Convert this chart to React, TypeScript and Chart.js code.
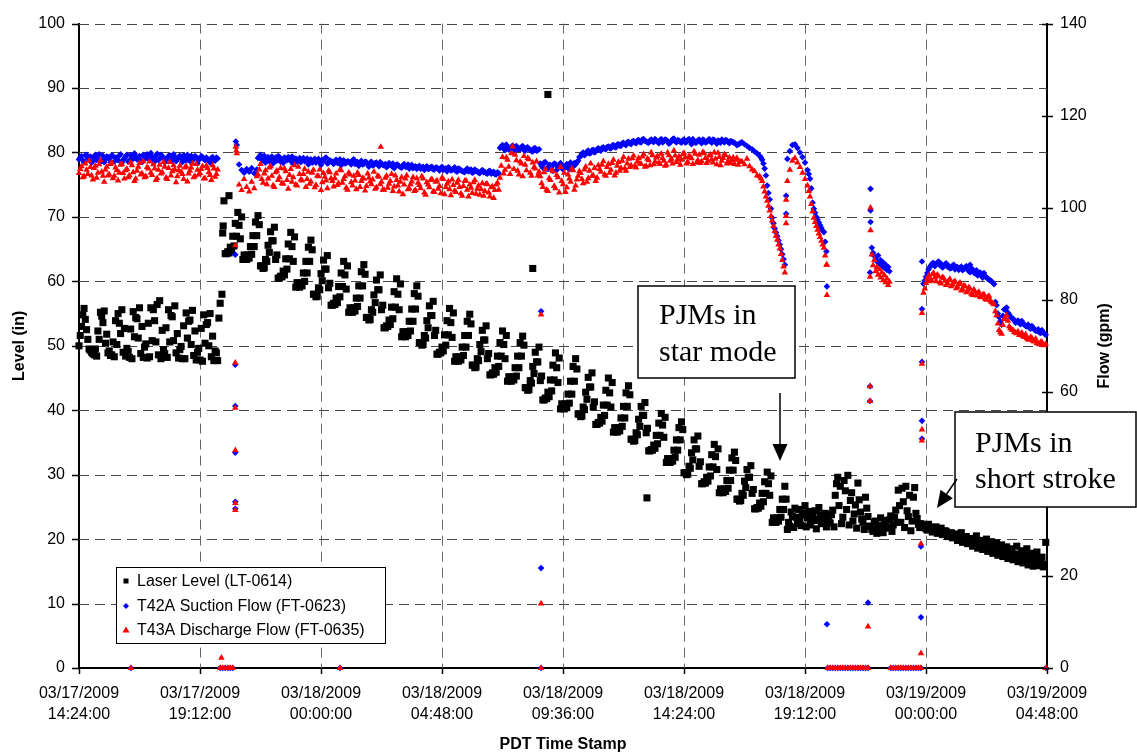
import React, { useEffect, useRef } from "react";
import { Chart, registerables } from "chart.js";
Chart.register(...registerables);

// ---------- axes ----------
const xTickHours = [0, 4.8, 9.6, 14.4, 19.2, 24, 28.8, 33.6, 38.4]; // hours after 03/17/2009 14:24
const xTickLabels = [
  ["03/17/2009", "14:24:00"],
  ["03/17/2009", "19:12:00"],
  ["03/18/2009", "00:00:00"],
  ["03/18/2009", "04:48:00"],
  ["03/18/2009", "09:36:00"],
  ["03/18/2009", "14:24:00"],
  ["03/18/2009", "19:12:00"],
  ["03/19/2009", "00:00:00"],
  ["03/19/2009", "04:48:00"],
];
const levelTicks = [0, 10, 20, 30, 40, 50, 60, 70, 80, 90, 100];
const flowTicks = [0, 20, 40, 60, 80, 100, 120, 140];
const seriesLabels = ["Laser Level (LT-0614)", "T42A Suction Flow (FT-0623)", "T43A Discharge Flow (FT-0635)"];
const levelTitle = "Level (in)";
const flowTitle = "Flow (gpm)";
const timeTitle = "PDT Time Stamp";
const note1 = ["PJMs in", "star mode"];
const note2 = ["PJMs in", "short stroke"];

// ---------- Laser level (in): runs sampled every 0.1 h ----------
const levelRunA = [
  50.0, 53.0, 55.8, 52.5, 49.5, 49.0, 48.6,
  48.4, 51.0, 54.6, 55.4, 51.8, 49.2, 48.6,
  48.3, 50.2, 53.5, 55.6, 52.7, 49.6, 48.2,
  48.0, 51.4, 54.2, 55.9, 53.0, 49.8, 48.1,
  48.3, 50.8, 53.9, 56.4, 57.0, 52.4, 48.8,
  48.2, 50.6, 54.5, 56.2, 51.9, 49.4, 48.0,
  48.0, 51.2, 54.0, 55.5, 52.3, 49.0, 47.8,
  47.6, 50.4, 53.6, 55.0, 51.5, 49.2, 47.7,
];
const levelRunA2 = [
  51.6, 54.8, 54.1, 51.0, 49.3, 48.8, 49.5,
  52.3, 55.2, 53.6, 50.4, 48.9, 48.5, 50.6,
  53.9, 55.0, 51.9, 49.0, 48.4, 49.1, 52.6,
  55.3, 54.4, 51.2, 48.8, 48.2, 50.3, 53.5,
  55.9, 55.6, 50.6, 48.6, 48.0, 49.4, 52.8,
  55.6, 54.7, 50.8, 48.9, 48.1, 49.9, 53.1,
  55.1, 53.8, 50.2, 48.5, 47.8, 49.6, 52.7,
  54.8, 53.3, 50.0, 48.3, 47.7, 48.9,
];
const levelRunB = [
  64.3, 64.6, 65.3, 67.0, 69.0, 70.7, 66.6,
  63.4, 63.5, 64.1, 65.4, 67.1, 69.2, 70.2,
  62.4, 62.0, 63.4, 65.6, 67.7, 66.3, 63.4,
  60.5, 60.8, 61.6, 63.5, 65.8, 67.6, 63.1,
  59.1, 59.2, 59.8, 61.3, 63.1, 65.3, 66.4,
  58.0, 57.6, 59.0, 61.2, 63.3, 61.9, 59.0,
  56.3, 56.6, 57.4, 59.2, 61.3, 63.1, 58.8,
  55.2, 55.3, 55.9, 57.4, 59.3, 61.5, 62.6,
  54.4, 54.0, 55.6, 57.9, 60.2, 58.7, 55.6,
  52.8, 53.1, 54.0, 56.0, 58.4, 60.4, 55.6,
  51.4, 51.6, 52.2, 53.8, 55.7, 58.1, 59.3,
  50.5, 50.1, 51.6, 53.9, 56.2, 54.7, 51.6,
  48.7, 49.0, 49.8, 51.7, 53.9, 55.8, 51.3,
  47.6, 47.7, 48.3, 49.8, 51.6, 53.8, 54.9,
  47.0, 46.6, 48.0, 50.2, 52.4, 50.9, 48.0,
  45.5, 45.8, 46.6, 48.4, 50.5, 52.3, 48.0,
  44.5, 44.6, 45.2, 46.6, 48.4, 50.5, 51.5,
  43.5, 43.1, 44.6, 46.8, 49.0, 47.5, 44.6,
  41.6, 41.9, 42.8, 44.7, 47.0, 48.9, 44.3,
  40.2, 40.4, 41.0, 42.5, 44.5, 46.8, 48.0,
  39.4, 39.0, 40.5, 42.8, 45.1, 43.6, 40.5,
  37.8, 38.1, 38.9, 40.8, 43.1, 45.0, 40.5,
  36.6, 36.7, 37.3, 38.8, 40.6, 42.7, 43.8,
  35.5, 35.2, 36.5, 38.6, 40.6, 39.2, 36.5,
  33.7, 33.9, 34.6, 36.1, 38.0, 39.5, 35.8,
  31.9, 32.0, 32.5, 33.8, 35.4, 37.3, 38.2,
  30.3, 30.0, 31.3, 33.4, 35.4, 34.0, 31.3,
  28.6, 28.9, 29.6, 31.2, 33.1, 34.7, 30.8,
  27.2, 27.3, 27.8, 29.1, 30.7, 32.6, 33.5,
  26.2, 25.9, 27.1, 29.0, 30.8, 29.6, 27.1,
  24.7, 24.9, 25.6, 27.1, 28.9, 30.4, 26.8,
  22.6, 22.7, 23.3, 24.6, 26.2, 28.2,
];
const levelRunB2 = [
  64.3, 64.4, 64.7, 65.5, 67.0, 68.7, 70.0,
  64.1, 63.4, 63.6, 64.2, 65.4, 67.1, 68.8,
  62.4, 62.1, 63.1, 64.5, 66.3, 68.4, 64.1,
  60.5, 60.7, 61.0, 61.9, 63.5, 65.4, 66.9,
  59.8, 59.1, 59.3, 60.0, 61.3, 63.1, 64.9,
  58.0, 57.7, 58.7, 60.1, 61.9, 64.0, 59.7,
  56.3, 56.4, 56.7, 57.6, 59.2, 61.0, 62.4,
  55.9, 55.2, 55.4, 56.1, 57.4, 59.3, 61.1,
  54.4, 54.1, 55.2, 56.7, 58.7, 61.0, 56.3,
  52.8, 53.0, 53.3, 54.2, 56.0, 58.0, 59.6,
  52.2, 51.4, 51.6, 52.3, 53.8, 55.7, 57.7,
  50.5, 50.2, 51.2, 52.8, 54.7, 56.9, 52.4,
  48.7, 48.9, 49.2, 50.1, 51.7, 53.6, 55.1,
  48.3, 47.6, 47.8, 48.5, 49.8, 51.6, 53.4,
  47.0, 46.7, 47.7, 49.1, 50.9, 53.1, 48.8,
  45.5, 45.6, 45.9, 46.8, 48.4, 50.2, 51.6,
  45.2, 44.5, 44.7, 45.3, 46.6, 48.4, 50.1,
  43.5, 43.2, 44.2, 45.7, 47.5, 49.8, 45.3,
  41.6, 41.8, 42.1, 43.0, 44.7, 46.6, 48.1,
  41.0, 40.2, 40.4, 41.1, 42.5, 44.5, 46.4,
  39.4, 39.1, 40.1, 41.7, 43.6, 45.8, 41.3,
  37.8, 38.0, 38.3, 39.2, 40.8, 42.7, 44.3,
  37.3, 36.6, 36.8, 37.5, 38.8, 40.6, 42.4,
  35.5, 35.3, 36.2, 37.5, 39.2, 41.2, 37.2,
  33.7, 33.8, 34.1, 34.8, 36.1, 37.7, 38.9,
  32.5, 31.9, 32.1, 32.7, 33.8, 35.4, 37.0,
  30.3, 30.1, 31.0, 32.3, 34.0, 36.0, 32.0,
  28.6, 28.7, 29.0, 29.8, 31.2, 32.8, 34.0,
  27.8, 27.2, 27.4, 27.9, 29.1, 30.7, 32.2,
  26.2, 26.0, 26.8, 28.0, 29.6, 31.4, 27.7,
  24.7, 24.8, 25.1, 25.8, 27.1, 28.6, 29.8,
  23.3, 22.6, 22.8, 23.4, 24.6, 26.2,
];
const levelRunC = [
  21.5, 22.0, 23.5, 24.8, 22.4, 23.0, 24.1, 25.2, 23.3, 22.2, 23.6, 24.4, 22.9, 23.8, 22.6, 24.0, 23.1,
  22.5, 24.5, 26.8, 29.6, 28.2, 23.4, 27.5, 29.9, 26.0, 22.8, 25.3, 28.7, 24.2, 22.6, 26.5, 23.5,
  22.0, 21.2, 22.8, 21.6, 23.3, 21.0, 22.4, 21.8, 23.6, 22.2,
  24.5, 27.6, 22.6, 25.8, 28.2, 23.5, 21.3, 26.5, 24.0, 22.3,
  22.4, 22.0, 21.6, 22.3, 21.8, 21.5, 21.9, 21.3, 21.7, 21.0,
  21.2, 20.6, 21.0, 20.3, 20.8, 20.1, 21.0, 19.8, 20.4, 19.6,
  20.1, 19.2, 20.5, 19.0, 19.8, 18.8, 20.0, 18.5, 19.6, 18.3,
  19.4, 18.0, 19.1, 17.6, 18.8, 17.4, 18.5, 17.2, 18.9, 16.9,
  18.2, 16.7, 18.5, 16.4, 17.8, 16.2, 18.0, 15.9, 17.2, 16.1,
];
const levelRunC2 = [
  22.6, 24.2, 21.8, 23.4, 24.6, 22.1, 23.7, 21.9, 24.3, 22.8, 23.1, 21.6, 24.9, 22.4, 23.5, 21.9, 22.7,
  23.8, 21.9, 28.6, 25.2, 22.4, 29.1, 24.6, 22.2, 27.2, 23.9, 21.7, 26.1, 23.1, 21.5, 24.8, 22.0,
  21.5, 22.6, 20.9, 22.1, 21.4, 22.9, 21.7, 23.0, 21.2, 23.4,
  22.6, 25.2, 27.9, 21.8, 24.4, 26.8, 22.8, 28.0, 23.2, 21.8,
  21.8, 22.2, 21.4, 21.9, 21.1, 21.6, 20.9, 21.4, 20.7, 21.3,
  20.4, 20.9, 20.2, 20.7, 19.8, 20.5, 19.5, 20.2, 19.3, 19.9,
  18.9, 19.7, 18.6, 19.5, 18.4, 19.3, 18.1, 19.0, 17.8, 18.7,
  17.5, 18.4, 17.3, 18.2, 17.0, 18.0, 16.8, 17.7, 16.5, 17.4,
  16.3, 17.6, 16.0, 17.3, 15.8, 17.0, 15.9, 16.6, 15.7,
];
const levelRunStarts = [0.0, 0.05, 5.8, 5.85, 28.1, 28.15];
const levelRuns = [levelRunA, levelRunA2, levelRunB, levelRunB2, levelRunC, levelRunC2];
const levelSingles = [
  [5.55, 54.3], [5.6, 56.6], [5.67, 58.0], [5.7, 67.5], [5.72, 68.6], [5.75, 72.5], [5.95, 73.3],
  [18.0, 62.0], [18.6, 89.0], [22.53, 26.4], [38.35, 19.5],
];

// ---------- Flows (gpm): runs share start hours and steps ----------
const flowRunStarts = [
  0, 6.35, 7.1, 16.7, 18.3, 19.9, 26.3, 27.05, 28.1, 28.95, 29.7, 31.45, 32.2, 33.5, 36.4,
  0.05, 7.15, 16.75, 18.35, 19.95, 33.55, 36.45,
];
const flowRunSteps = [
  0.1, 0.1, 0.1, 0.1, 0.1, 0.1, 0.1, 0.05, 0.1, 0.05, 0.1, 0.05, 0.1, 0.1, 0.1,
  0.1, 0.1, 0.1, 0.1, 0.1, 0.1, 0.1,
];

const zeroRunA = [0, 0, 0, 0, 0, 0, 0, 0, 0, 0, 0, 0, 0, 0, 0, 0, 0];
const zeroRunB = [0, 0, 0, 0, 0, 0, 0, 0, 0, 0, 0, 0, 0];

const suction1 = [
  110.5, 111.2, 110.0, 111.5, 110.8, 109.8, 111.0, 110.4, 111.6, 110.2,
  109.9, 111.1, 110.6, 111.4, 110.0, 110.9, 111.3, 109.7, 110.7, 111.5,
  110.3, 111.0, 111.8, 110.5, 111.2, 109.9, 110.8, 111.6, 110.4, 111.1,
  110.0, 111.7, 110.6, 111.2, 109.8, 110.9, 111.4, 110.2, 111.0, 110.5,
  111.3, 109.9, 110.7, 111.5, 110.1, 110.9, 111.2, 109.6, 110.8, 111.0,
  110.3, 110.6, 109.8, 111.0, 110.2, 110.7,
];
const suction1b = [
  110.9, 110.3, 111.4, 110.6, 111.1, 110.1, 111.5, 110.7, 110.0, 111.3,
  110.5, 111.0, 109.9, 111.2, 110.8, 110.3, 111.6, 110.4, 111.1, 110.0,
  111.4, 110.6, 111.2, 110.9, 110.2, 111.5, 110.7, 111.0, 111.9, 110.6,
  111.3, 110.4, 111.5, 110.8, 110.3, 111.2, 110.6, 111.6, 110.1, 111.0,
  110.7, 111.4, 110.2, 110.9, 111.3, 110.5, 111.0, 110.3, 111.2, 110.6,
  110.9, 110.1, 110.8, 110.4, 110.9,
];
const suction2 = [109.4, 108.2, 107.6, 108.4, 107.8, 108.6, 107.5, 108.3];
const suction3 = [
  110.8, 111.5, 110.2, 109.8, 111.0, 110.5, 109.6, 110.9, 111.2, 110.0,
  109.7, 110.6, 111.0, 110.1, 109.5, 110.7, 110.3, 109.9, 110.8, 110.2,
  109.4, 110.5, 110.0, 109.8, 110.6, 109.3, 110.2, 110.9, 109.7, 110.1,
  109.5, 110.4, 109.9, 109.2, 110.3, 109.7, 110.0, 109.4, 110.5, 109.6,
  109.1, 110.2, 109.5, 109.9, 108.9, 110.0, 109.3, 109.8, 109.0, 109.6,
  109.2, 108.8, 109.7, 109.1, 108.6, 109.4, 109.0, 108.7, 109.5, 108.9,
  108.5, 109.3, 108.8, 108.4, 109.1, 108.6, 108.2, 109.0, 108.5, 108.9,
  108.3, 108.7, 108.1, 108.9, 108.4, 107.9, 108.6, 108.2, 108.8, 107.8,
  108.4, 108.0, 107.7, 108.5, 108.1, 107.6, 108.3, 107.9, 107.5, 108.2,
  107.8, 107.4, 108.0, 107.6, 107.3, 107.7,
];
const suction3b = [
  111.0, 110.4, 111.3, 110.7, 110.1, 111.1, 110.6, 110.2, 111.0, 110.5,
  110.9, 110.3, 110.7, 111.1, 110.4, 110.0, 110.8, 110.5, 110.1, 110.7,
  110.2, 109.8, 110.6, 110.3, 109.9, 110.4, 110.7, 109.6, 110.3, 109.9,
  110.2, 109.7, 110.5, 110.0, 109.6, 110.1, 109.8, 110.3, 109.5, 109.9,
  109.7, 109.4, 110.0, 109.5, 109.8, 109.2, 109.7, 109.4, 109.9, 109.3,
  109.5, 109.1, 109.3, 109.6, 109.0, 109.3, 108.8, 109.2, 108.9, 109.4,
  108.9, 108.6, 109.0, 108.8, 108.5, 108.9, 108.7, 108.4, 108.8, 108.3,
  108.7, 108.4, 108.6, 108.2, 108.5, 108.8, 108.1, 108.4, 108.0, 108.5,
  108.1, 107.8, 108.2, 107.9, 108.3, 107.7, 108.0, 107.6, 107.9, 107.7,
  107.5, 107.9, 107.4, 107.8, 107.2, 107.5,
];
const suction4 = [113.0, 113.6, 112.5, 113.2, 112.8, 113.5, 112.3, 113.0, 112.7, 113.4, 112.4, 113.1, 112.6, 112.2, 112.9, 112.5];
const suction4b = [113.3, 112.8, 113.7, 112.6, 113.1, 112.9, 113.4, 112.7, 113.2, 112.5, 113.0, 112.8, 112.3, 112.9, 112.4, 112.7];
const suction5 = [109.6, 108.7, 109.9, 108.4, 109.2, 108.0, 109.5, 108.8, 109.7, 108.3, 109.0, 108.6, 109.8, 108.9, 109.4, 110.2];
const suction5b = [109.1, 109.8, 108.5, 109.3, 108.9, 109.6, 108.2, 109.0, 109.4, 108.7, 109.5, 108.4, 109.2, 109.7, 109.9, 111.0];
const suction6 = [
  111.2, 112.0, 111.6, 112.4, 111.9, 112.6, 112.2, 112.9, 112.4, 113.1,
  112.7, 113.3, 112.9, 113.6, 113.1, 113.8, 113.4, 114.1, 113.6, 114.3,
  113.8, 114.5, 114.0, 114.7, 114.2, 114.9, 114.4, 114.1, 114.8, 114.3,
  114.6, 114.0, 114.9, 114.4, 114.7, 113.9, 114.5, 115.0, 114.2, 114.6,
  114.1, 114.8, 114.3, 114.9, 113.8, 114.5, 114.2, 114.8, 114.0, 114.6,
  114.3, 114.9, 114.1, 114.7, 113.9, 114.5, 114.8, 114.2, 114.6, 114.0,
  114.4, 114.1, 113.6, 113.9,
];
const suction6b = [
  111.7, 111.4, 112.2, 111.8, 112.5, 112.0, 112.7, 112.6, 113.0, 112.8,
  113.2, 113.0, 113.5, 113.2, 113.7, 113.5, 114.0, 113.8, 114.2, 114.0,
  114.4, 114.2, 114.6, 114.3, 114.8, 114.5, 114.2, 114.6, 114.4, 114.9,
  114.3, 114.7, 114.2, 114.8, 114.5, 114.1, 114.9, 114.4, 114.7, 114.3,
  114.6, 114.2, 114.7, 114.4, 114.9, 114.1, 114.6, 114.3, 114.8, 114.2,
  114.6, 114.4, 114.8, 114.3, 114.6, 114.1, 114.5, 114.7, 114.3, 114.5,
  114.2, 113.9, 113.8, 114.1,
];
const suction7 = [114.2, 113.8, 113.4, 113.0, 112.7, 112.2, 111.8, 111.3];
const suction8 = [110.9, 110.4, 109.6, 108.5, 107.0, 104.8, 103.2, 101.8, 99.8, 97.8, 96.6, 95.5, 94.6, 93.8, 92.9, 92.0, 91.0, 89.9, 88.8, 87.6];
const suction9 = [110.6, 112.3, 113.6, 113.8, 113.0, 112.0, 111.0, 109.8, 108.2];
const suction10 = [107.3, 106.3, 104.2, 101.1, 99.8, 98.9, 98.0, 97.4, 96.8, 96.2, 95.6, 95.0, 94.7, 92.6, 90.5];
const suction11 = [91.3, 90.2, 89.5, 88.8, 88.3, 89.6, 87.9, 88.6, 87.4, 88.1, 86.9, 87.6, 86.5, 87.1, 86.2];
const suction12 = [
  83.5, 85.0, 86.6, 87.5, 88.0, 87.6, 88.3, 87.8, 87.2, 87.9,
  87.4, 86.9, 87.6, 87.0, 86.5, 87.2, 86.7, 87.3, 86.2, 86.8,
  85.9, 86.4, 85.6, 85.2, 85.8, 84.9, 84.4, 84.0, 83.4,
];
const suction12b = [
  84.2, 85.8, 87.1, 87.9, 87.3, 88.1, 87.5, 87.0, 87.7, 87.2,
  86.8, 87.4, 86.6, 87.1, 86.9, 86.4, 87.0, 86.5, 86.0, 86.6,
  85.7, 85.3, 85.9, 84.8, 85.1, 84.5, 84.2, 83.7, 79.5,
];
const suction13 = [78.8, 76.2, 74.6, 77.9, 78.3, 76.8, 76.0, 75.6, 75.2, 74.9, 75.4, 74.6, 74.2, 73.9, 74.3, 73.5, 73.2, 72.9, 73.4, 72.6];
const suction13b = [77.0, 75.3, 76.5, 78.0, 77.2, 76.3, 75.9, 75.0, 75.5, 74.7, 74.9, 74.3, 74.6, 73.7, 73.9, 73.3, 73.6, 72.8, 72.9, 72.4];
const suctionRuns = [
  suction1, suction2, suction3, suction4, suction5, suction6, suction7, suction8, suction9, suction10,
  zeroRunA, suction11, zeroRunB, suction12, suction13,
  suction1b, suction3b, suction4b, suction5b, suction6b, suction12b, suction13b,
];
const suctionSingles = [
  [2.06, 0], [5.6, 0], [5.7, 0], [5.8, 0], [5.9, 0], [6.0, 0], [6.1, 0],
  [6.2, 89.8], [6.2, 65.9], [6.2, 56.9], [6.2, 46.8], [6.2, 36.1], [6.2, 34.6], [6.22, 114.4], [6.26, 113.6],
  [10.35, 0], [18.33, 77.5], [18.33, 21.7], [18.33, 0], [28.05, 102.6], [28.05, 98.7],
  [29.67, 82.9], [29.67, 9.5], [31.3, 14.2], [31.38, 61.2], [31.38, 58.0], [31.38, 85.9],
  [31.4, 104.1], [31.4, 99.4], [31.4, 96.9], [33.4, 11.0], [33.4, 26.4],
  [33.44, 88.3], [33.44, 78.0], [33.44, 66.5], [33.44, 53.7], [33.44, 49.8], [35.35, 87.6], [38.36, 0],
];

const discharge1 = [
  107.5, 109.0, 106.8, 108.2, 110.2, 107.0, 108.6, 106.5, 109.4, 107.8,
  105.6, 108.9, 107.2, 109.8, 106.9, 108.1, 107.6, 109.5, 106.3, 108.4,
  107.0, 109.2, 105.8, 108.0, 109.7, 107.4, 106.6, 108.8, 110.0, 107.1,
  108.5, 106.4, 109.3, 107.7, 108.9, 106.2, 109.9, 107.9, 108.3, 106.8,
  109.1, 107.3, 108.7, 105.7, 108.0, 109.6, 106.9, 108.2, 107.5, 109.0,
  106.4, 108.6, 107.1, 109.2, 106.7, 108.3,
];
const discharge1b = [
  108.4, 106.6, 109.6, 107.3, 108.8, 106.1, 109.1, 107.6, 110.3, 106.9,
  108.2, 107.0, 109.5, 106.4, 108.7, 105.9, 109.3, 107.5, 108.1, 106.6,
  109.8, 107.7, 106.3, 108.9, 107.2, 110.1, 106.8, 108.5, 107.6, 109.4,
  106.0, 108.2, 107.4, 109.9, 106.5, 108.6, 107.0, 109.2, 105.5, 108.1,
  107.8, 106.2, 109.0, 107.4, 108.7, 106.6, 109.5, 107.2, 108.4, 106.3,
  109.1, 107.7, 106.0, 108.5, 107.3,
];
const discharge2 = [105.0, 103.8, 106.2, 104.5, 103.5, 105.6, 104.2, 106.8];
const discharge3 = [
  107.2, 109.5, 105.4, 108.1, 106.3, 109.0, 104.8, 107.7, 106.0, 108.6,
  105.2, 107.9, 104.1, 108.4, 106.6, 105.0, 108.9, 106.1, 107.3, 104.5,
  107.8, 105.7, 108.2, 104.9, 106.8, 103.8, 107.5, 105.9, 108.0, 106.4,
  104.6, 107.4, 105.3, 108.1, 106.2, 104.3, 107.6, 105.5, 106.9, 104.0,
  107.1, 105.8, 106.3, 104.7, 106.5, 105.1, 107.8, 104.4, 106.7, 105.6,
  103.9, 106.9, 105.2, 107.3, 104.6, 106.0, 103.5, 106.6, 105.0, 107.0,
  104.2, 105.7, 103.6, 106.4, 104.9, 106.8, 103.3, 105.5, 104.4, 106.2,
  103.4, 105.9, 104.7, 106.5, 102.9, 105.2, 104.0, 106.1, 103.7, 105.4,
  104.5, 102.6, 105.8, 103.9, 105.0, 103.2, 106.0, 104.1, 102.8, 105.3,
  103.6, 105.1, 102.4, 104.6, 103.8, 105.4,
];
const discharge3b = [
  108.3, 106.2, 107.4, 105.1, 108.7, 106.9, 104.5, 108.0, 106.6, 105.3,
  108.5, 106.0, 107.1, 105.6, 109.2, 104.8, 107.3, 105.9, 108.4, 106.2,
  105.2, 107.6, 104.4, 106.9, 108.3, 105.5, 106.7, 104.2, 107.7, 105.8,
  106.4, 104.9, 108.2, 105.4, 106.8, 103.9, 107.2, 104.8, 105.9, 107.6,
  104.5, 106.4, 103.7, 107.4, 105.7, 106.1, 104.1, 106.9, 105.1, 103.9,
  106.5, 104.3, 105.8, 103.6, 107.0, 104.8, 105.6, 102.9, 106.3, 104.0,
  105.1, 106.6, 103.8, 105.4, 104.2, 106.3, 102.8, 105.0, 106.0, 103.5,
  105.6, 104.1, 103.1, 106.2, 104.4, 105.7, 102.7, 104.9, 103.4, 106.0,
  103.1, 104.7, 105.9, 102.4, 104.3, 105.5, 103.0, 104.8, 104.0, 102.6,
  105.2, 103.3, 104.4, 102.1, 105.0, 103.9,
];
const discharge4 = [106.5, 111.0, 108.2, 110.4, 107.3, 113.3, 111.5, 108.0, 110.0, 106.8, 109.3, 110.8, 107.6, 109.8, 108.5, 107.0];
const discharge4b = [109.1, 107.4, 110.9, 108.9, 111.8, 108.4, 110.3, 107.2, 109.6, 111.2, 108.1, 110.5, 106.9, 108.8, 110.1, 107.8];
const discharge5 = [106.8, 104.5, 108.4, 103.6, 106.0, 107.9, 104.2, 106.6, 108.8, 105.1, 103.4, 107.2, 105.6, 108.1, 104.8, 106.9];
const discharge5b = [105.3, 107.7, 103.9, 106.4, 108.2, 104.7, 107.1, 103.3, 105.8, 107.6, 104.4, 106.3, 108.5, 103.9, 106.1, 107.9];
const discharge6 = [
  107.5, 105.3, 108.9, 106.4, 109.6, 107.0, 105.8, 109.2, 107.8, 110.1,
  106.9, 109.5, 108.2, 110.4, 107.6, 109.9, 108.6, 111.0, 108.0, 110.6,
  109.2, 111.3, 108.7, 110.8, 109.5, 111.6, 109.0, 110.3, 112.0, 109.4,
  110.9, 109.8, 111.7, 110.2, 109.3, 111.4, 110.6, 112.4, 109.9, 111.1,
  110.4, 111.9, 109.6, 111.2, 110.7, 112.2, 109.8, 111.5, 110.1, 111.8,
  109.7, 111.3, 110.5, 112.0, 109.4, 111.0, 110.2, 111.6, 109.6, 110.9,
  110.3, 109.5, 110.8, 109.9,
];
const discharge6b = [
  106.2, 108.3, 105.6, 108.0, 106.9, 108.6, 106.5, 108.4, 109.3, 107.2,
  108.8, 107.6, 109.7, 107.0, 109.1, 108.0, 110.2, 108.5, 109.6, 108.8,
  110.7, 109.1, 110.0, 109.6, 111.1, 108.9, 110.6, 109.2, 111.4, 110.0,
  111.2, 109.5, 110.8, 109.1, 112.0, 110.2, 109.6, 111.3, 110.5, 109.3,
  111.6, 110.9, 109.9, 111.0, 109.5, 111.7, 110.3, 109.7, 112.1, 110.8,
  110.2, 111.5, 109.8, 110.6, 111.9, 109.2, 110.8, 111.4, 110.1, 109.7,
  110.9, 110.4, 109.3, 110.0,
];
const discharge7 = [110.0, 109.4, 110.6, 109.0, 108.3, 107.9, 107.0, 106.8];
const discharge8 = [106.4, 105.8, 104.6, 103.5, 102.4, 101.5, 100.4, 99.4, 98.2, 97.2, 96.0, 94.9, 93.9, 93.0, 92.0, 91.1, 89.9, 88.6, 87.2, 85.9];
const discharge9 = [105.8, 108.2, 110.2, 110.8, 109.8, 108.8, 107.6, 106.2, 104.8];
const discharge10 = [103.6, 102.4, 100.8, 99.2, 97.8, 96.9, 96.0, 95.2, 94.4, 93.6, 92.8, 92.0, 91.3, 89.6, 87.6];
const discharge11 = [89.8, 87.5, 88.6, 86.2, 87.1, 85.4, 86.6, 84.8, 85.9, 84.2, 85.3, 83.8, 84.6, 83.2, 83.9];
const discharge12 = [
  81.5, 83.6, 85.2, 84.4, 85.8, 84.0, 85.1, 83.5, 84.7, 83.2,
  84.2, 82.9, 83.8, 82.5, 83.4, 82.0, 83.1, 81.6, 82.7, 81.3,
  82.2, 80.9, 81.7, 80.5, 81.2, 80.0, 80.8, 79.5, 79.0,
];
const discharge12b = [
  82.4, 84.6, 84.0, 85.5, 84.8, 85.4, 83.8, 84.9, 84.1, 83.6,
  84.5, 83.3, 84.0, 82.8, 83.7, 82.3, 82.9, 82.0, 82.4, 81.0,
  81.7, 81.4, 80.6, 81.0, 80.2, 80.6, 79.8, 79.2, 77.5,
];
const discharge13 = [76.6, 73.4, 72.6, 75.8, 76.6, 74.2, 73.5, 73.0, 72.7, 72.3, 72.8, 71.9, 71.6, 71.3, 71.7, 70.9, 70.6, 70.3, 70.8, 70.1];
const discharge13b = [74.8, 72.9, 74.5, 76.2, 75.4, 73.8, 73.4, 72.8, 73.1, 72.4, 72.1, 72.5, 71.4, 71.9, 71.1, 71.5, 70.5, 70.8, 70.2, 70.4];
const dischargeRuns = [
  discharge1, discharge2, discharge3, discharge4, discharge5, discharge6, discharge7, discharge8, discharge9, discharge10,
  zeroRunA, discharge11, zeroRunB, discharge12, discharge13,
  discharge1b, discharge3b, discharge4b, discharge5b, discharge6b, discharge12b, discharge13b,
];
const dischargeSingles = [
  [2.06, 0], [5.6, 0], [5.65, 2.2], [5.7, 0], [5.8, 0], [5.9, 0], [6.0, 0], [6.1, 0],
  [6.2, 91.8], [6.2, 66.3], [6.2, 56.5], [6.2, 47.3], [6.2, 35.8], [6.2, 34.3],
  [6.22, 113.2], [6.24, 112.4], [6.26, 111.8], [10.35, 0], [11.97, 113.2],
  [18.33, 76.8], [18.33, 14.0], [18.33, 0], [28.05, 101.7], [28.05, 98.2], [28.05, 96.6],
  [29.67, 87.6], [29.67, 81.0], [31.3, 9.0], [31.38, 61.2], [31.38, 58.0], [31.38, 85.0],
  [31.4, 100.0], [31.4, 95.1], [33.4, 3.2], [33.4, 27.0],
  [33.44, 77.1], [33.44, 66.1], [33.44, 51.8], [33.44, 49.4], [38.36, 0],
];

// ---------- helpers to build the point tables ----------
function run(t0: number, dt: number, vals: number[]) {
  return vals.map((v, i) => ({ x: Math.round((t0 + i * dt) * 1000) / 1000, y: v }));
}
function singles(pairs: number[][]) {
  return pairs.map(([x, y]) => ({ x, y }));
}
function series(runs: number[][], starts: number[], steps: number[] | number, extra: number[][]) {
  const out: { x: number; y: number }[] = [];
  runs.forEach((vals, k) => out.push(...run(starts[k], Array.isArray(steps) ? steps[k] : steps, vals)));
  out.push(...singles(extra));
  return out;
}

const SANS = '"Liberation Sans", Arial, Helvetica, sans-serif';
const SERIF = '"Liberation Serif", "Times New Roman", serif';

const gridPlugin = {
  id: "dashedGrid",
  beforeDatasetsDraw(chart: any) {
    const ctx: CanvasRenderingContext2D = chart.ctx;
    const { left, right, top, bottom } = chart.chartArea;
    const sx = chart.scales.x, sy = chart.scales.y;
    ctx.save();
    ctx.lineWidth = 1;
    ctx.setLineDash([10, 6]);
    ctx.strokeStyle = "#444";
    levelTicks.slice(1).forEach((v) => {
      const y = Math.round(sy.getPixelForValue(v)) + 0.5;
      ctx.beginPath(); ctx.moveTo(left, y); ctx.lineTo(right, y); ctx.stroke();
    });
    ctx.strokeStyle = "#666";
    xTickHours.slice(1, -1).forEach((h) => {
      const x = Math.round(sx.getPixelForValue(h)) + 0.5;
      ctx.beginPath(); ctx.moveTo(x, top); ctx.lineTo(x, bottom); ctx.stroke();
    });
    ctx.restore();
  },
};

const overlayPlugin = {
  id: "overlay",
  afterDraw(chart: any) {
    const ctx: CanvasRenderingContext2D = chart.ctx;
    const { left, right, top, bottom } = chart.chartArea;
    const sx = chart.scales.x, sy = chart.scales.y, sy1 = chart.scales.y1;
    ctx.save();
    ctx.setLineDash([]);
    ctx.strokeStyle = "#000";
    ctx.lineWidth = 1.5;
    const line = (x1: number, y1: number, x2: number, y2: number) => {
      ctx.beginPath(); ctx.moveTo(x1, y1); ctx.lineTo(x2, y2); ctx.stroke();
    };
    levelTicks.forEach((v) => { const y = Math.round(sy.getPixelForValue(v)) + 0.5; line(left - 7, y, left, y); });
    flowTicks.forEach((v) => { const y = Math.round(sy1.getPixelForValue(v)) + 0.5; line(right - 5, y, right + 6, y); });
    xTickHours.forEach((h) => { const x = Math.round(sx.getPixelForValue(h)) + 0.5; line(x, bottom, x, bottom + 6); });

    // axis titles
    ctx.fillStyle = "#000";
    ctx.font = `bold 16px ${SANS}`;
    ctx.textAlign = "center";
    ctx.textBaseline = "middle";
    ctx.save(); ctx.translate(left - 59.5, (top + bottom) / 2); ctx.rotate(-Math.PI / 2); ctx.fillText(levelTitle, 0, 0); ctx.restore();
    ctx.save(); ctx.translate(right + 58, (top + bottom) / 2); ctx.rotate(-Math.PI / 2); ctx.fillText(flowTitle, 0, 0); ctx.restore();
    ctx.fillText(timeTitle, (left + right) / 2, bottom + 77);

    // legend
    const lx = left + 37, ly = bottom - 101, lw = 269, lh = 76;
    ctx.fillStyle = "#fff"; ctx.fillRect(lx, ly, lw, lh);
    ctx.lineWidth = 1; ctx.strokeStyle = "#000"; ctx.strokeRect(lx + 0.5, ly + 0.5, lw, lh);
    const rows = [ly + 14, ly + 39, ly + 63];
    const mx = lx + 10;
    ctx.fillStyle = "#000"; ctx.fillRect(mx - 2.5, rows[0] - 2.5, 5, 5);
    ctx.fillStyle = "#0000ff"; ctx.beginPath(); ctx.moveTo(mx - 3, rows[1]); ctx.lineTo(mx, rows[1] - 3); ctx.lineTo(mx + 3, rows[1]); ctx.lineTo(mx, rows[1] + 3); ctx.closePath(); ctx.fill();
    ctx.fillStyle = "#ff0000"; ctx.beginPath(); ctx.moveTo(mx, rows[2] - 3.5); ctx.lineTo(mx + 3.5, rows[2] + 2.5); ctx.lineTo(mx - 3.5, rows[2] + 2.5); ctx.closePath(); ctx.fill();
    ctx.fillStyle = "#000"; ctx.font = `16px ${SANS}`; ctx.textAlign = "left"; ctx.textBaseline = "middle";
    seriesLabels.forEach((t, i) => ctx.fillText(t, lx + 21, rows[i] + 1));

    // annotation boxes
    ctx.lineWidth = 1.5;
    ctx.fillStyle = "#fff"; ctx.fillRect(638, 286, 157, 92); ctx.strokeRect(638, 286, 157, 92);
    ctx.fillRect(955, 412, 181, 95); ctx.strokeRect(955, 412, 181, 95);
    ctx.fillStyle = "#000"; ctx.font = `30px ${SERIF}`; ctx.textAlign = "left"; ctx.textBaseline = "alphabetic";
    ctx.fillText(note1[0], 659, 324); ctx.fillText(note1[1], 659, 361);
    ctx.fillText(note2[0], 975, 452); ctx.fillText(note2[1], 975, 488);

    // arrows
    const arrow = (x1: number, y1: number, x2: number, y2: number) => {
      const ang = Math.atan2(y2 - y1, x2 - x1);
      const hl = 17, hw = 7.5;
      const bx = x2 - hl * Math.cos(ang), by = y2 - hl * Math.sin(ang);
      ctx.lineWidth = 1.5; line(x1, y1, bx, by);
      ctx.beginPath(); ctx.moveTo(x2, y2);
      ctx.lineTo(bx + hw * Math.sin(ang), by - hw * Math.cos(ang));
      ctx.lineTo(bx - hw * Math.sin(ang), by + hw * Math.cos(ang));
      ctx.closePath(); ctx.fill();
    };
    ctx.fillStyle = "#000";
    arrow(780, 393, 780, 461);
    arrow(957, 479, 937, 508);
    ctx.restore();
  },
};

export default function App() {
  const ref = useRef<HTMLCanvasElement | null>(null);
  useEffect(() => {
    if (!ref.current) return;
    const chart = new Chart(ref.current, {
      type: "scatter",
      data: {
        datasets: [
          { label: seriesLabels[0], data: series(levelRuns, levelRunStarts, 0.1, levelSingles), yAxisID: "y", pointStyle: "rect", pointRadius: 5, backgroundColor: "#000", borderWidth: 0, order: 3, clip: false },
          { label: seriesLabels[1], data: series(suctionRuns, flowRunStarts, flowRunSteps, suctionSingles), yAxisID: "y1", pointStyle: "rectRot", pointRadius: 3.3, backgroundColor: "#0000ff", borderWidth: 0, order: 2, clip: false },
          { label: seriesLabels[2], data: series(dischargeRuns, flowRunStarts, flowRunSteps, dischargeSingles), yAxisID: "y1", pointStyle: "triangle", pointRadius: 3.8, backgroundColor: "#ff0000", borderWidth: 0, order: 1, clip: false },
        ],
      },
      options: {
        responsive: false,
        animation: false,
        events: [],
        layout: { padding: { top: 16, left: 0, right: 0, bottom: 0 } },
        plugins: { legend: { display: false }, tooltip: { enabled: false } },
        scales: {
          x: {
            type: "linear",
            min: 0,
            max: 38.4,
            afterBuildTicks: (s: any) => { s.ticks = xTickHours.map((v) => ({ value: v })); },
            afterFit: (s: any) => { s.height = 85; },
            grid: { display: false, drawTicks: false },
            border: { color: "#000", width: 2 },
            ticks: {
              autoSkip: false, maxRotation: 0, padding: 15, color: "#000",
              font: { family: SANS, size: 16, lineHeight: 1.3 },
              callback: (_v: any, i: number) => xTickLabels[i],
            },
          },
          y: {
            type: "linear",
            position: "left",
            min: 0,
            max: 100,
            afterBuildTicks: (s: any) => { s.ticks = levelTicks.map((v) => ({ value: v })); },
            afterFit: (s: any) => { s.width = 79; },
            grid: { display: false, drawTicks: false },
            border: { color: "#000", width: 2 },
            ticks: { padding: 14, color: "#000", font: { family: SANS, size: 16 }, callback: (v: any) => String(v) },
          },
          y1: {
            type: "linear",
            position: "right",
            min: 0,
            max: 140,
            afterBuildTicks: (s: any) => { s.ticks = flowTicks.map((v) => ({ value: v })); },
            afterFit: (s: any) => { s.width = 90; },
            grid: { display: false, drawTicks: false },
            border: { color: "#000", width: 2 },
            ticks: { padding: 13, color: "#000", font: { family: SANS, size: 16 }, callback: (v: any) => String(v) },
          },
        },
      },
      plugins: [gridPlugin, overlayPlugin],
    } as any);
    return () => chart.destroy();
  }, []);
  return (
    <div style={{ position: "absolute", left: 0, top: 0, width: 1137, height: 753, background: "#fff" }}>
      <canvas ref={ref} width={1137} height={753} />
    </div>
  );
}
